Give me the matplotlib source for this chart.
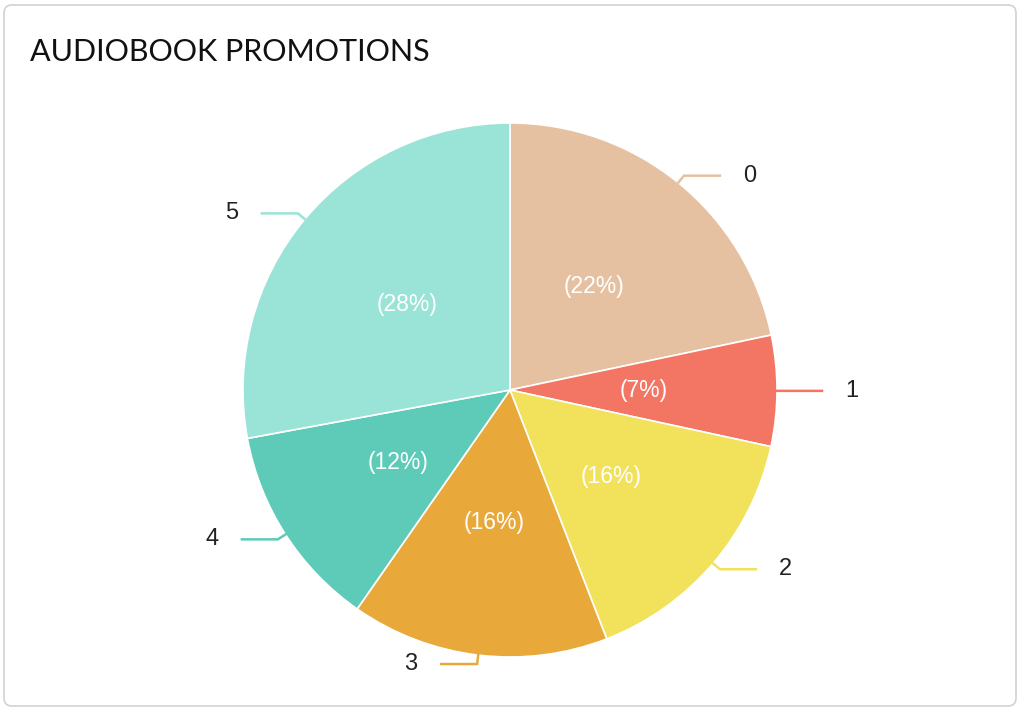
import numpy as np
import matplotlib
matplotlib.use("Agg")
import matplotlib.pyplot as plt
from matplotlib.patches import FancyBboxPatch

# Data
categories = ["0", "1", "2", "3", "4", "5"]
values = [21.7, 6.7, 15.7, 15.6, 12.4, 27.9]
pct_labels = ["(22%)", "(7%)", "(16%)", "(16%)", "(12%)", "(28%)"]
colors = ["#E6C1A1", "#F27663", "#F1E15B", "#E9A93A", "#5DCBB8", "#9AE3D7"]
title = "AUDIOBOOK PROMOTIONS"

W, H = 1024, 712
fig = plt.figure(figsize=(W / 100, H / 100), dpi=100)
ax = fig.add_axes([0, 0, 1, 1])

# card frame
frame = FancyBboxPatch((4, 6), W - 12, H - 11, boxstyle="round,pad=0,rounding_size=8",
                       facecolor="white", edgecolor="#d2d2d2", linewidth=1.2, zorder=0)
ax.add_patch(frame)

ax.text(30, H - 52, title, fontsize=22, family=["Lato", "DejaVu Sans"],
        color="#111111", va="center", ha="left")

cx, cy, R = 510, H - 390, 267
wedges, _ = ax.pie(values, colors=colors, startangle=90, counterclock=False,
                   center=(cx, cy), radius=R, explode=[0.008] * len(values),
                   wedgeprops=dict(edgecolor="white", linewidth=1.2, joinstyle="round"),
                   frame=True)
ax.set_xlim(0, W)
ax.set_ylim(0, H)
ax.set_aspect("equal")
ax.axis("off")

for w, pct, cat, col in zip(wedges, pct_labels, categories, colors):
    mid = np.deg2rad((w.theta1 + w.theta2) / 2)
    c, s = np.cos(mid), np.sin(mid)
    # percentage label
    ax.text(cx + 0.5 * R * c, cy + 0.5 * R * s, pct, color="white", fontsize=16.5,
            family=["Liberation Sans", "DejaVu Sans"], ha="center", va="center")
    # leader line
    p0 = (cx + R * c, cy + R * s)
    p1 = (cx + (R + 9) * c, cy + (R + 9) * s)
    sign = 1 if c >= 0 else -1
    p2 = (p1[0] + sign * 36, p1[1])
    ax.plot([p0[0], p1[0], p2[0]], [p0[1], p1[1], p2[1]], color=col, lw=1.8,
            solid_joinstyle="round", zorder=3)
    ax.text(p2[0] + sign * 30, p2[1], cat, fontsize=17, color="#222222",
            family=["Liberation Sans", "DejaVu Sans"], ha="center", va="center")

fig.savefig("out.png", dpi=100, facecolor="white")
